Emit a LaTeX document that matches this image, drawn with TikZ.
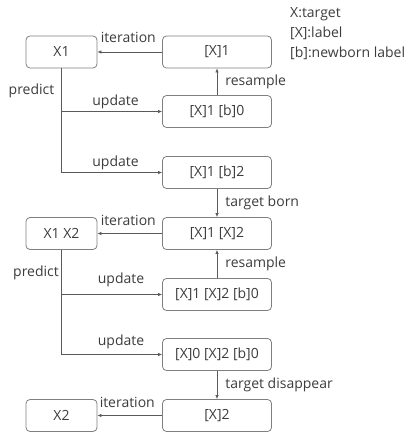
\documentclass[tikz,border=0pt]{standalone}
\usepackage{fontspec}
\setmainfont{Open Sans}
\usetikzlibrary{arrows.meta}
\definecolor{txt}{HTML}{3C3C3C}
\definecolor{boxgray}{HTML}{7F7F7F}
\definecolor{linegray}{HTML}{5A5A5A}
\begin{document}
\begin{tikzpicture}[x=1pt,y=-1pt,
  box/.style={draw=boxgray, rounded corners=4pt, line width=0.8pt, minimum height=32pt, text=txt, font=\fontsize{14}{16}\selectfont, inner sep=0pt},
  lbox/.style={box, minimum width=71pt},
  rbox/.style={box, minimum width=109pt},
  lab/.style={text=txt, font=\fontsize{14}{16}\selectfont, inner sep=0pt},
  arr/.style={draw=linegray, line width=0.7pt, -{Latex[length=4pt,width=3.5pt]}}]
\useasboundingbox (0,0) rectangle (409,435);
% boxes
\node[lbox] (l1) at (61.5,52) {X1};
\node[rbox] (r1) at (217,52) {[X]1};
\node[rbox] (rb0) at (217,111.5) {[X]1 [b]0};
\node[rbox] (rb2) at (217,172.5) {[X]1 [b]2};
\node[lbox] (l2) at (61.5,233.5) {X1 X2};
\node[rbox] (r2) at (217,233.5) {[X]1 [X]2};
\node[rbox] (r2b) at (217,294.5) {[X]1 [X]2 [b]0};
\node[rbox] (r0b) at (217,354.5) {[X]0 [X]2 [b]0};
\node[lbox] (l3) at (61.5,415.5) {X2};
\node[rbox] (r3) at (217,415.5) {[X]2};
% legend
\node[lab, anchor=west] (lg1) at (290,14) {X:target};
\node[lab, anchor=west] (lg2) at (290,33.5) {[X]:label};
\node[lab, anchor=west] (lg3) at (290,53) {[b]:newborn label};
% iteration arrows
\draw[arr] (r1) -- (l1) node[lab, pos=1, anchor=base west, xshift=3pt, yshift=9pt] (it1) {iteration};
\draw[arr] (r2) -- (l2) node[lab, pos=1, anchor=base west, xshift=3pt, yshift=8pt] (it2) {iteration};
\draw[arr] (r3) -- (l3) node[lab, pos=1, anchor=base west, xshift=2pt, yshift=8pt] (it3) {iteration};
% resample / born / disappear
\draw[arr] (rb0) -- (r1) node[lab, midway, anchor=west, xshift=8pt] (rs1) {resample};
\draw[arr] (rb2) -- (r2) node[lab, midway, anchor=west, xshift=8pt] (tb) {target born};
\draw[arr] (r2b) -- (r2) node[lab, midway, anchor=west, xshift=8pt] (rs2) {resample};
\draw[arr] (r0b) -- (r3) node[lab, midway, anchor=west, xshift=8pt] (td) {target disappear};
% predict / update
\draw[arr] (l1) |- (rb2);
\draw[arr] (l1 |- rb0) -- (rb0);
\draw[arr] (l2) |- (r0b);
\draw[arr] (l2 |- r2b) -- (r2b);
\node[lab, anchor=east] (p1) at (54.5,90.7) {predict};
\node[lab, anchor=east] (p2) at (59,272.7) {predict};
\node[lab, anchor=base] (u1) at (115.5,106) {update};
\node[lab, anchor=base] (u2) at (115.5,167) {update};
\node[lab, anchor=base] (u3) at (121,283) {update};
\node[lab, anchor=base] (u4) at (121,345) {update};
\end{tikzpicture}
\end{document}
